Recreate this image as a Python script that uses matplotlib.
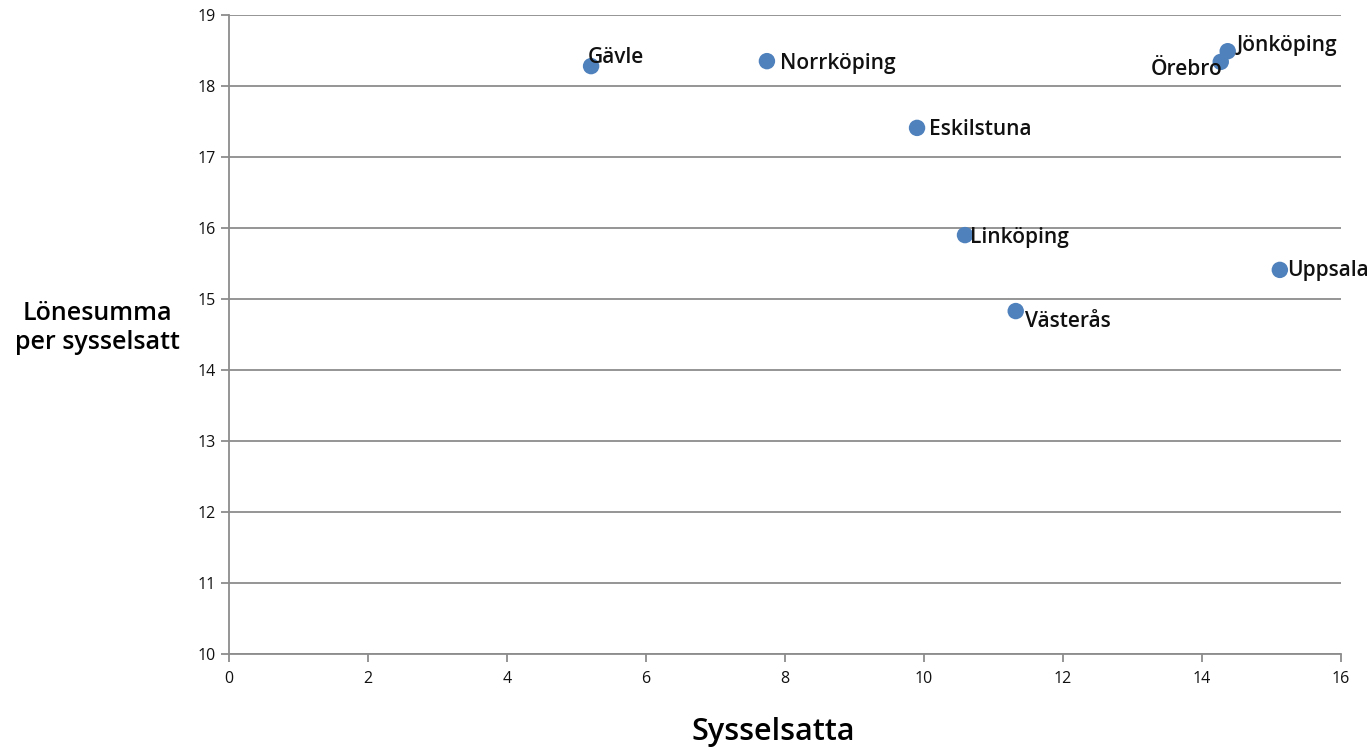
import matplotlib
matplotlib.use("Agg")
import matplotlib.pyplot as plt

plt.rcParams['font.family'] = ['Open Sans', 'DejaVu Sans']

# data
cities = ['Gävle', 'Norrköping', 'Jönköping', 'Örebro', 'Eskilstuna',
          'Linköping', 'Uppsala', 'Västerås']
sysselsatta = [5.21, 7.74, 14.37, 14.27, 9.90, 10.59, 15.12, 11.32]
lonesumma = [18.28, 18.35, 18.49, 18.34, 17.41, 15.90, 15.41, 14.83]

# label offsets in pixels (dx, dy) and alignment
label_pos = {
    'Gävle': (-3, 9, 'left'),
    'Norrköping': (13, -2, 'left'),
    'Jönköping': (9, 6, 'left'),
    'Örebro': (2, -8, 'right'),
    'Eskilstuna': (12, -2, 'left'),
    'Linköping': (5, -2, 'left'),
    'Uppsala': (7, -1, 'left'),
    'Västerås': (9, -10, 'left'),
}

fig = plt.figure(figsize=(13.72, 7.5), dpi=100)
ax = fig.add_axes([0.1669, 0.128, 0.8105, 0.852])

ax.scatter(sysselsatta, lonesumma, s=140, color='#4F81BD', zorder=3,
           edgecolors='none')

for name, x, y in zip(cities, sysselsatta, lonesumma):
    dx, dy, ha = label_pos[name]
    ax.annotate(name, (x, y), xytext=(dx, dy), textcoords='offset pixels',
                ha=ha, va='center', fontsize=15, fontweight='semibold',
                color='#111111', zorder=4)

ax.set_xlim(0, 16)
ax.set_ylim(10, 19)
ax.set_xticks(range(0, 17, 2))
ax.set_yticks(range(10, 20))
ax.grid(axis='y', color='#8c8c8c', linewidth=1.3)
ax.set_axisbelow(True)

for side in ['top', 'right']:
    ax.spines[side].set_visible(False)
for side in ['left', 'bottom']:
    ax.spines[side].set_color('#8c8c8c')
    ax.spines[side].set_linewidth(1.3)

ax.tick_params(axis='both', direction='out', length=6, width=1.3,
               color='#8c8c8c', labelsize=11.5, labelcolor='#111111')
ax.tick_params(axis='x', pad=6)

fig.text(0.5637, 0.024, 'Sysselsatta', ha='center', va='center',
         fontsize=22, fontweight='semibold')
fig.text(0.0707, 0.563, 'Lönesumma\nper sysselsatt', ha='center', va='center',
         fontsize=18, fontweight='semibold', linespacing=1.2)

fig.savefig('out.png', dpi=100)
